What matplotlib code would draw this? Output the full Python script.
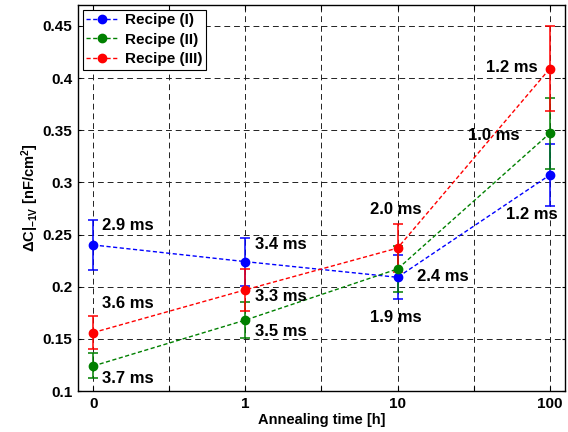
import numpy as np
import matplotlib
matplotlib.use("Agg")
import matplotlib.pyplot as plt
from matplotlib.lines import Line2D

# annealing times (categorical positions on the axis)
times = ["0", "1", "10", "100"]
xpos = np.arange(len(times))

recipes = ["Recipe (I)", "Recipe (II)", "Recipe (III)"]
colors = ["#0000ff", "#008000", "#ff0000"]

dc_I = [0.240, 0.224, 0.209, 0.307]
dc_II = [0.124, 0.168, 0.217, 0.347]
dc_III = [0.156, 0.197, 0.237, 0.409]

err_I = [0.024, 0.023, 0.021, 0.030]
err_II = [0.012, 0.017, 0.022, 0.034]
err_III = [0.016, 0.020, 0.023, 0.041]

# lifetime labels (text, x, y in data coords)
lifetimes = [
    ("2.9 ms", 0.06, 0.259), ("3.6 ms", 0.06, 0.184), ("3.7 ms", 0.06, 0.112),
    ("3.4 ms", 1.06, 0.240), ("3.3 ms", 1.06, 0.191), ("3.5 ms", 1.06, 0.157),
    ("2.0 ms", 1.82, 0.274), ("2.4 ms", 2.13, 0.210), ("1.9 ms", 1.82, 0.170),
    ("1.2 ms", 2.58, 0.410), ("1.0 ms", 2.46, 0.345), ("1.2 ms", 2.71, 0.269),
]

plt.rcParams["font.family"] = ["Liberation Sans", "DejaVu Sans"]
plt.rcParams["font.weight"] = "bold"
plt.rcParams["mathtext.fontset"] = "custom"
plt.rcParams["mathtext.rm"] = "Liberation Sans:bold"
plt.rcParams["mathtext.it"] = "Liberation Sans:bold"
plt.rcParams["mathtext.bf"] = "Liberation Sans:bold"
plt.rcParams["mathtext.sf"] = "Liberation Sans:bold"

fig = plt.figure(figsize=(5.68, 4.32), dpi=100)
ax = fig.add_axes([0.1373, 0.0949, 0.8574, 0.8935])

dash = (0, (3, 1.8))
handles = []
for vals, errs, lab, c in zip([dc_I, dc_II, dc_III], [err_I, err_II, err_III], recipes, colors):
    ax.errorbar(xpos, vals, yerr=errs, color=c, ls=dash, lw=1.0,
                marker="o", ms=6, capsize=3.5, elinewidth=1.1, capthick=1.1,
                zorder=3)
    handles.append(Line2D([], [], color=c, ls=dash, lw=1.0, marker="o", ms=6, label=lab))

for txt, tx, ty in lifetimes:
    ax.text(tx, ty, txt, fontsize=12, fontweight="bold", va="center", ha="left", zorder=4)

ax.set_xlim(-0.1, 3.1)
ax.set_ylim(0.1, 0.47)
ax.set_xticks(np.arange(0, 3.01, 0.5))
ax.set_xticklabels(["0", "", "1", "", "10", "", "100"])
ax.set_yticks(np.arange(0.1, 0.451, 0.05))
ax.set_yticklabels(["0.1", "0.15", "0.2", "0.25", "0.3", "0.35", "0.4", "0.45"])
ax.tick_params(axis="x", direction="in", length=3.5, width=0.8, labelsize=11, pad=4,
               top=True)
ax.tick_params(axis="y", direction="in", length=2, width=0.8, labelsize=11, pad=4,
               right=True)
ax.grid(True, color="#222222", ls=(0, (6, 4)), lw=0.7)
ax.set_axisbelow(True)
for s in ax.spines.values():
    s.set_linewidth(1.0)

ax.set_xlabel("Annealing time [h]", fontsize=10.5, fontweight="bold", labelpad=2)
ax.set_ylabel(r"$\Delta$C$|_{-1V}$ [nF/cm$^2$]", fontsize=10.5, fontweight="bold", labelpad=1)

leg = ax.legend(handles=handles, loc="upper left", fontsize=11, frameon=True, fancybox=False,
                edgecolor="black", framealpha=1, borderpad=0.25, labelspacing=0.35,
                handlelength=2.1, handletextpad=0.4, borderaxespad=0.3)
leg.get_frame().set_linewidth(0.8)

fig.savefig("out.png", dpi=100)
